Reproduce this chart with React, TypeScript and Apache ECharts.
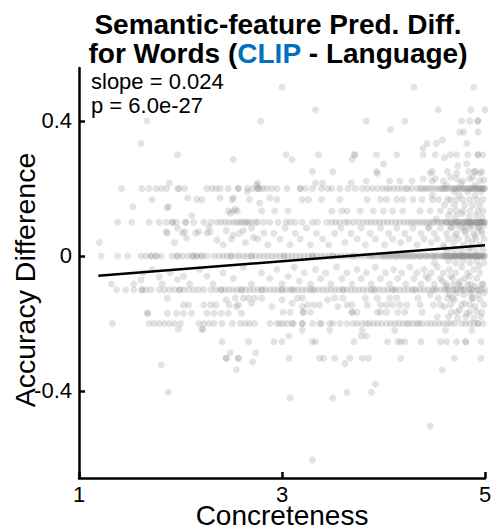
import React, { useEffect, useRef } from "react";
import * as echarts from "echarts";

const FONT = "'Liberation Sans', Arial, Helvetica, sans-serif";

const xTicks = [1, 3, 5];
const yTicks = [-0.4, 0, 0.4];
const xRange = [1, 5];
const yRange = [-0.658, 0.557];

const titleLine1 = "Semantic-feature Pred. Diff.";
const titlePre = "for Words (";
const titleModel = "CLIP";
const titlePost = " - Language)";
const slopeText = "slope = 0.024";
const pText = "p = 6.0e-27";
const xName = "Concreteness";
const yName = "Accuracy Difference";

// regression fit end points
const fitLine = [
  [1.19, -0.059],
  [5.0, 0.032],
];

// concreteness values of words sitting on the main accuracy-difference rows
const xAtP20 = [1.42, 1.62, 1.69, 1.76, 1.81, 1.86, 1.97, 1.99, 2.04, 2.26, 2.31, 2.35, 2.39, 2.47, 2.57, 2.57, 2.66, 2.71, 2.76, 2.76, 2.78, 2.81, 2.85, 2.9, 2.95, 3.05, 3.18, 3.18, 3.23, 3.3, 3.39, 3.45, 3.49, 3.57, 3.65, 3.72, 3.79, 3.84, 3.89, 3.94, 3.99, 4.03, 4.06, 4.1, 4.14, 4.18, 4.22, 4.24, 4.28, 4.33, 4.36, 4.38, 4.41, 4.43, 4.46, 4.49, 4.52, 4.55, 4.57, 4.59, 4.62, 4.64, 4.67, 4.69, 4.72, 4.74, 4.77, 4.79, 4.8, 4.82, 4.85, 4.86, 4.88, 4.9, 4.92, 4.93, 4.95, 4.97, 4.98, 5.0, 4.6, 4.7, 4.75, 4.84, 4.89, 4.94, 4.99];
const xAtP10 = [1.38, 1.52, 1.69, 1.79, 1.86, 1.92, 1.92, 1.96, 2.05, 2.05, 2.13, 2.23, 2.3, 2.36, 2.4, 2.44, 2.48, 2.52, 2.55, 2.58, 2.6, 2.63, 2.65, 2.67, 2.7, 2.74, 2.76, 2.82, 2.88, 2.96, 3.04, 3.08, 3.13, 3.2, 3.3, 3.35, 3.44, 3.49, 3.53, 3.57, 3.62, 3.65, 3.7, 3.75, 3.8, 3.84, 3.88, 3.92, 3.96, 4.0, 4.04, 4.08, 4.12, 4.16, 4.2, 4.24, 4.27, 4.3, 4.33, 4.36, 4.39, 4.42, 4.45, 4.48, 4.5, 4.53, 4.56, 4.58, 4.61, 4.63, 4.66, 4.68, 4.7, 4.72, 4.74, 4.76, 4.78, 4.8, 4.82, 4.84, 4.86, 4.88, 4.9, 4.92, 4.94, 4.96, 4.98, 5.0, 4.62, 4.67, 4.73, 4.79, 4.83, 4.87, 4.91, 4.95, 4.99, 4.85, 4.93, 4.97];
const xAtZero = [1.22, 1.38, 1.48, 1.61, 1.66, 1.71, 1.76, 1.81, 1.92, 1.97, 2.02, 2.07, 2.12, 2.16, 2.21, 2.26, 2.33, 2.38, 2.42, 2.46, 2.5, 2.55, 2.58, 2.62, 2.66, 2.7, 2.74, 2.78, 2.82, 2.86, 2.9, 2.94, 2.98, 3.02, 3.06, 3.1, 3.14, 3.18, 3.22, 3.26, 3.3, 3.34, 3.38, 3.42, 3.46, 3.5, 3.54, 3.58, 3.62, 3.66, 3.7, 3.74, 3.78, 3.82, 3.86, 3.9, 3.93, 3.96, 3.99, 4.02, 4.05, 4.08, 4.11, 4.14, 4.17, 4.2, 4.23, 4.26, 4.29, 4.32, 4.35, 4.38, 4.41, 4.44, 4.47, 4.5, 4.53, 4.56, 4.59, 4.62, 4.65, 4.68, 4.71, 4.74, 4.77, 4.8, 4.83, 4.86, 4.89, 4.92, 4.95, 4.98, 1.76, 2.16, 2.21, 1.71, 1.97, 2.12, 2.5, 2.7, 3.02, 3.3, 3.5, 3.7, 3.88, 4.0, 4.06, 4.12, 4.18, 4.24, 4.3, 4.36, 4.42, 4.48, 4.52, 4.58, 4.61, 4.64, 4.67, 4.7, 4.73, 4.76, 4.79, 4.82, 4.85, 4.88, 4.91, 4.94, 4.97, 5.0, 4.6, 4.66, 4.72, 4.78, 4.84, 4.9, 4.96, 4.99, 4.81, 4.87, 4.93, 4.69, 4.75];
const xAtM10 = [1.37, 1.46, 1.54, 1.62, 1.62, 1.66, 1.71, 1.79, 1.84, 1.89, 1.94, 1.99, 2.03, 2.08, 2.13, 2.18, 2.23, 2.3, 2.35, 2.4, 2.44, 2.48, 2.52, 2.56, 2.6, 2.64, 2.68, 2.72, 2.76, 2.8, 2.84, 2.88, 2.92, 2.96, 3.0, 3.04, 3.08, 3.12, 3.16, 3.2, 3.24, 3.28, 3.32, 3.36, 3.4, 3.44, 3.48, 3.52, 3.56, 3.6, 3.64, 3.68, 3.72, 3.76, 3.8, 3.84, 3.88, 3.92, 3.96, 4.0, 4.04, 4.08, 4.12, 4.16, 4.2, 4.24, 4.28, 4.32, 4.36, 4.4, 4.44, 4.48, 4.52, 4.56, 4.6, 4.64, 4.68, 4.72, 4.76, 4.8, 4.84, 4.88, 4.92, 4.96, 5.0, 1.99, 2.4, 2.6, 2.8, 3.0, 3.1, 3.3, 3.6, 3.9, 4.1, 4.3, 4.5, 4.62, 4.7, 4.78, 4.86, 4.94];
const xAtM20 = [1.33, 1.69, 1.74, 1.79, 1.84, 1.89, 1.94, 2.0, 2.18, 2.23, 2.28, 2.33, 2.41, 2.51, 2.59, 2.64, 2.68, 2.73, 2.88, 2.95, 2.98, 3.01, 3.05, 3.1, 3.11, 3.2, 3.2, 3.3, 3.37, 3.39, 3.47, 3.5, 3.57, 3.64, 3.7, 3.74, 3.79, 3.83, 3.86, 3.9, 3.94, 3.98, 4.03, 4.07, 4.11, 4.15, 4.19, 4.23, 4.25, 4.29, 4.33, 4.35, 4.38, 4.43, 4.47, 4.51, 4.55, 4.59, 4.63, 4.66, 4.7, 4.77, 4.81, 4.85, 4.89, 4.93, 4.93, 4.98];

// words off the main rows: [concreteness, accuracy difference]
const upperScatter = [
  [3.0, 0.5], [4.3, 0.5], [4.89, 0.5],
  [3.33, 0.433], [4.54, 0.433], [4.86, 0.433], [5.0, 0.433],
  [1.67, 0.4], [2.79, 0.4], [3.83, 0.4], [4.21, 0.4], [4.77, 0.4], [4.85, 0.4], [4.93, 0.4], [4.93, 0.4],
  [4.07, 0.375], [4.75, 0.367], [4.79, 0.367], [4.93, 0.367],
  [1.61, 0.333], [4.43, 0.333], [4.52, 0.333], [4.58, 0.344], [4.82, 0.333], [4.39, 0.32],
  [1.97, 0.3], [3.04, 0.3], [3.36, 0.3], [3.71, 0.3], [3.72, 0.3], [3.93, 0.3], [4.13, 0.3], [4.39, 0.3], [4.51, 0.3], [4.66, 0.3], [4.72, 0.3], [4.83, 0.3], [4.93, 0.3], [4.93, 0.3], [4.98, 0.3],
  [2.52, 0.286], [3.1, 0.286], [3.69, 0.286], [4.6, 0.292],
  [4.0, 0.273], [4.73, 0.267], [4.82, 0.273],
  [3.3, 0.25], [3.5, 0.25], [3.93, 0.25], [4.48, 0.25], [4.63, 0.25], [4.84, 0.25], [4.9, 0.25], [4.9, 0.25], [4.97, 0.25],
  [3.94, 0.245], [4.46, 0.245], [4.72, 0.245], [4.95, 0.245],
];
const bandP22 = [
  [1.89, 0.216], [2.75, 0.21], [2.76, 0.216], [3.33, 0.216], [3.4, 0.216], [3.68, 0.216], [3.83, 0.222],
  [4.06, 0.222], [4.16, 0.222], [4.28, 0.222], [4.39, 0.229], [4.48, 0.222], [4.51, 0.229], [4.59, 0.222],
  [4.72, 0.229], [4.78, 0.222], [4.85, 0.229], [4.95, 0.222], [4.88, 0.233], [4.66, 0.233],
];
const bandP15 = [
  [1.72, 0.167], [1.87, 0.143], [2.16, 0.167], [2.21, 0.167], [1.53, 0.146], [1.88, 0.146], [2.07, 0.172],
  [2.39, 0.172], [2.52, 0.172], [2.66, 0.19], [2.49, 0.127], [2.54, 0.139], [2.78, 0.157], [2.88, 0.172], [2.11, 0.12],
  [2.51, 0.167], [2.68, 0.167], [2.95, 0.167], [3.2, 0.167], [3.26, 0.167], [3.39, 0.167], [3.57, 0.167],
  [2.47, 0.133], [2.52, 0.133], [2.56, 0.133], [2.8, 0.133], [2.93, 0.133], [3.06, 0.133], [3.49, 0.133], [3.59, 0.133], [3.64, 0.133],
  [3.84, 0.167], [3.97, 0.167], [4.03, 0.167], [4.13, 0.167], [4.19, 0.167], [4.29, 0.167], [4.38, 0.167], [4.48, 0.167],
  [4.54, 0.167], [4.63, 0.167], [4.66, 0.167], [4.72, 0.167], [4.78, 0.167], [4.85, 0.167], [4.92, 0.167], [4.98, 0.167],
  [3.77, 0.133], [3.9, 0.133], [4.0, 0.133], [4.09, 0.133], [4.19, 0.133], [4.36, 0.133], [4.46, 0.133], [4.56, 0.133],
  [4.66, 0.133], [4.72, 0.133], [4.78, 0.133], [4.85, 0.133], [4.93, 0.133], [4.98, 0.133],
  [4.6, 0.15], [4.7, 0.15], [4.8, 0.15], [4.88, 0.15], [4.95, 0.15], [4.75, 0.18], [4.9, 0.18],
];
const bandP05 = [
  [1.2, 0.04], [1.97, 0.083], [1.86, 0.072], [2.04, 0.072], [2.18, 0.072], [2.06, 0.053], [1.94, 0.04], [2.28, 0.087],
  [2.29, 0.072], [1.87, 0.068], [2.02, 0.068], [2.15, 0.068], [2.26, 0.068], [2.36, 0.047], [2.45, 0.075], [2.52, 0.062],
  [2.62, 0.075], [2.72, 0.055], [2.82, 0.068],
  [2.42, 0.033], [2.5, 0.05], [2.58, 0.067], [2.64, 0.04], [2.7, 0.083], [2.76, 0.05], [2.86, 0.033], [2.92, 0.067],
  [2.98, 0.05], [3.03, 0.083], [3.08, 0.033], [3.13, 0.067], [3.18, 0.05], [3.24, 0.083], [3.28, 0.033], [3.34, 0.067],
  [3.4, 0.05], [3.46, 0.033], [3.52, 0.067], [3.58, 0.083], [3.62, 0.04], [3.68, 0.067],
  [3.74, 0.05], [3.78, 0.083], [3.82, 0.033], [3.87, 0.067], [3.92, 0.05], [3.97, 0.083], [4.01, 0.033], [4.05, 0.067],
  [4.09, 0.05], [4.13, 0.083], [4.17, 0.04], [4.21, 0.067], [4.25, 0.05], [4.29, 0.083], [4.33, 0.033], [4.37, 0.067],
  [4.4, 0.05], [4.44, 0.083], [4.47, 0.04], [4.5, 0.067], [4.53, 0.05], [4.56, 0.083], [4.59, 0.033], [4.62, 0.067],
  [4.64, 0.05], [4.67, 0.083], [4.69, 0.04], [4.72, 0.067], [4.74, 0.05], [4.77, 0.083], [4.79, 0.033], [4.81, 0.067],
  [4.83, 0.05], [4.85, 0.083], [4.87, 0.04], [4.89, 0.067], [4.91, 0.05], [4.93, 0.083], [4.95, 0.033], [4.97, 0.067],
  [4.99, 0.05], [4.7, 0.06], [4.8, 0.075], [4.9, 0.06], [4.96, 0.075], [4.6, 0.025], [4.86, 0.025],
];
const bandM05 = [
  [1.32, -0.083], [1.54, -0.083], [1.61, -0.071], [1.79, -0.062], [1.97, -0.07], [2.03, -0.06], [2.26, -0.06],
  [1.63, -0.05], [1.72, -0.04], [1.82, -0.083], [1.9, -0.05], [2.09, -0.083], [2.19, -0.04], [2.32, -0.083],
  [2.42, -0.05], [2.52, -0.067], [2.62, -0.033], [2.7, -0.083], [2.8, -0.05], [2.88, -0.067],
  [2.95, -0.04], [3.0, -0.083], [3.06, -0.06], [3.12, -0.033], [3.17, -0.075], [3.22, -0.05], [3.28, -0.083],
  [3.33, -0.04], [3.38, -0.067], [3.43, -0.05], [3.48, -0.083], [3.54, -0.033], [3.59, -0.067], [3.64, -0.05], [3.69, -0.083],
  [3.74, -0.04], [3.78, -0.067], [3.83, -0.05], [3.88, -0.083], [3.92, -0.033], [3.97, -0.067], [4.02, -0.05], [4.06, -0.083],
  [4.1, -0.04], [4.14, -0.067], [4.18, -0.05], [4.22, -0.083], [4.26, -0.033], [4.3, -0.067], [4.33, -0.05], [4.37, -0.083],
  [4.4, -0.04], [4.44, -0.067], [4.47, -0.05], [4.5, -0.083], [4.53, -0.033], [4.56, -0.067], [4.59, -0.05], [4.62, -0.083],
  [4.65, -0.04], [4.68, -0.067], [4.71, -0.05], [4.74, -0.083], [4.77, -0.033], [4.8, -0.067], [4.83, -0.05], [4.86, -0.083],
  [4.89, -0.04], [4.92, -0.067], [4.95, -0.05], [4.98, -0.083], [4.66, -0.06], [4.75, -0.075], [4.85, -0.06], [4.94, -0.03],
  [4.58, -0.075], [4.42, -0.06],
];
const bandM15 = [
  [1.87, -0.125], [2.03, -0.145], [2.08, -0.145], [2.23, -0.145], [2.3, -0.145], [2.35, -0.145], [1.67, -0.17], [1.87, -0.17],
  [1.96, -0.17], [2.03, -0.17], [2.11, -0.17], [2.26, -0.17], [2.33, -0.17], [1.68, -0.17], [2.4, -0.17], [2.47, -0.17],
  [2.54, -0.125], [2.62, -0.125], [2.67, -0.125], [2.73, -0.125], [2.57, -0.145], [2.48, -0.145], [2.6, -0.17],
  [3.01, -0.167], [3.08, -0.167], [3.21, -0.167], [3.21, -0.167], [3.28, -0.167], [3.69, -0.167], [3.69, -0.167], [3.74, -0.167],
  [3.94, -0.167], [3.97, -0.167], [4.03, -0.167], [4.14, -0.167], [4.21, -0.167], [4.38, -0.167], [4.67, -0.167], [4.72, -0.167],
  [4.85, -0.167], [4.97, -0.167],
  [3.25, -0.145], [3.31, -0.145], [3.37, -0.145], [3.64, -0.145], [3.69, -0.145], [3.84, -0.145], [3.97, -0.145], [4.03, -0.145],
  [4.09, -0.145], [4.16, -0.145], [4.23, -0.145], [4.36, -0.145], [4.49, -0.145], [4.56, -0.145], [4.66, -0.145], [4.77, -0.145], [4.85, -0.145],
  [3.15, -0.125], [3.2, -0.125], [3.52, -0.125], [3.6, -0.125], [3.82, -0.125], [3.94, -0.125], [4.06, -0.125], [4.13, -0.125],
  [4.34, -0.125], [4.54, -0.125], [4.63, -0.125], [4.68, -0.125], [4.87, -0.125],
  [2.45, -0.13], [2.55, -0.15], [2.7, -0.14], [2.8, -0.125], [2.9, -0.15], [3.0, -0.13], [3.1, -0.14], [3.2, -0.15], [3.45, -0.13], [3.55, -0.15],
  [4.6, -0.15], [4.7, -0.13], [4.75, -0.16], [4.8, -0.14], [4.9, -0.15], [4.95, -0.13], [4.88, -0.125], [4.82, -0.17], [4.92, -0.165], [4.99, -0.145],
];
// extra words in the crowded high-concreteness corner
const denseCorner = [
  [4.62, 0.21], [4.7, 0.19], [4.76, 0.215], [4.83, 0.19], [4.9, 0.21], [4.96, 0.19], [4.99, 0.225],
  [4.64, 0.12], [4.71, 0.115], [4.77, 0.125], [4.84, 0.115], [4.91, 0.12], [4.97, 0.115],
  [4.66, 0.085], [4.73, 0.09], [4.8, 0.085], [4.87, 0.09], [4.94, 0.085], [4.99, 0.09],
  [4.63, 0.015], [4.7, 0.02], [4.77, 0.015], [4.84, 0.02], [4.91, 0.015], [4.98, 0.02],
  [4.64, -0.015], [4.71, -0.02], [4.78, -0.015], [4.85, -0.02], [4.92, -0.015], [4.99, -0.02],
  [4.62, -0.09], [4.69, -0.085], [4.76, -0.09], [4.83, -0.085], [4.9, -0.09], [4.97, -0.085],
  [4.65, -0.115], [4.72, -0.11], [4.79, -0.115], [4.86, -0.11], [4.93, -0.115], [4.99, -0.11],
  [4.64, -0.18], [4.73, -0.185], [4.81, -0.18], [4.89, -0.185], [4.96, -0.18],
  [4.48, 0.18], [4.52, 0.11], [4.45, 0.085], [4.5, -0.02], [4.46, -0.115], [4.53, -0.18],
];
const lowerScatter = [
  [2.21, -0.217], [1.98, -0.217], [2.22, -0.217], [3.2, -0.22], [3.47, -0.22], [3.79, -0.22], [4.11, -0.22], [4.61, -0.22], [4.87, -0.22],
  [3.07, -0.237], [3.83, -0.237], [3.78, -0.237],
  [2.41, -0.254], [2.67, -0.254], [2.92, -0.254], [3.0, -0.254], [3.3, -0.254], [3.33, -0.254], [3.71, -0.254], [4.04, -0.254],
  [4.14, -0.254], [4.17, -0.254], [4.21, -0.254], [4.37, -0.254], [4.56, -0.254], [4.62, -0.254], [4.72, -0.254], [4.81, -0.254], [4.81, -0.254], [4.96, -0.254],
  [2.45, -0.303], [2.45, -0.303], [2.57, -0.303], [2.57, -0.303], [3.07, -0.303], [3.37, -0.303], [3.41, -0.303], [3.52, -0.303],
  [3.67, -0.303], [3.79, -0.303], [3.85, -0.303], [4.17, -0.303], [4.7, -0.303], [4.96, -0.303],
  [2.49, -0.287], [2.74, -0.287], [2.71, -0.314], [2.55, -0.337], [3.62, -0.319], [4.58, -0.337], [1.81, -0.323],
  [1.88, -0.404], [3.08, -0.421], [3.5, -0.421], [3.64, -0.404], [3.88, -0.404], [3.92, -0.38], [4.46, -0.504], [3.3, -0.605],
];

const rowPoints = [
  ...xAtP20.map((x) => [x, 0.2]),
  ...xAtP10.map((x) => [x, 0.1]),
  ...xAtZero.map((x) => [x, 0]),
  ...xAtM10.map((x) => [x, -0.1]),
  ...xAtM20.map((x) => [x, -0.2]),
];
const allPoints = [...rowPoints, ...upperScatter, ...bandP22, ...bandP15, ...bandP05, ...bandM05, ...bandM15, ...denseCorner, ...lowerScatter];

export default function App() {
  const ref = useRef<HTMLDivElement>(null);
  useEffect(() => {
    if (!ref.current) return;
    const chart = echarts.init(ref.current, undefined, { renderer: "svg" });
    chart.setOption({
      animation: false,
      backgroundColor: "#ffffff",
      textStyle: { fontFamily: FONT },
      grid: { left: 79, right: 6, top: 68, bottom: 53, containLabel: false, outerBoundsMode: "none" },
      xAxis: {
        type: "value",
        min: xRange[0],
        max: xRange[1],
        axisLine: { show: true, onZero: false, lineStyle: { color: "#000", width: 2.5 } },
        axisTick: { show: true, inside: true, length: 6, lineStyle: { color: "#000", width: 2.5 }, customValues: xTicks },
        axisLabel: { show: true, fontSize: 22, lineHeight: 18, color: "#000", margin: 7, fontFamily: FONT, customValues: xTicks },
        splitLine: { show: false },
      },
      yAxis: {
        type: "value",
        min: yRange[0],
        max: yRange[1],
        axisLine: { show: true, onZero: false, lineStyle: { color: "#000", width: 2.5 } },
        axisTick: { show: true, inside: true, length: 6, lineStyle: { color: "#000", width: 2.5 }, customValues: yTicks },
        axisLabel: { show: true, fontSize: 22, color: "#000", margin: 7, fontFamily: FONT, customValues: yTicks },
        splitLine: { show: false },
      },
      graphic: [
        {
          type: "text",
          x: 278,
          y: 10,
          z: 100,
          style: {
            text: `{a|${titleLine1}}\n{a|${titlePre}}{b|${titleModel}}{a|${titlePost}}`,
            align: "center",
            verticalAlign: "top",
            rich: {
              a: { fontSize: 28, fontWeight: "bold", fill: "#000", color: "#000", lineHeight: 29, fontFamily: FONT },
              b: { fontSize: 28, fontWeight: "bold", fill: "#0072BD", color: "#0072BD", lineHeight: 29, fontFamily: FONT },
            },
          },
        },
        {
          type: "text",
          x: 282,
          y: 515,
          z: 100,
          style: { text: xName, fontSize: 28, lineHeight: 24, fill: "#000", fontFamily: FONT, align: "center", verticalAlign: "middle" },
        },
        {
          type: "text",
          x: 25,
          y: 280,
          rotation: Math.PI / 2,
          z: 100,
          style: { text: yName, fontSize: 28.5, fill: "#000", fontFamily: FONT, align: "center", verticalAlign: "middle" },
        },
        {
          type: "text",
          x: 91,
          y: 70,
          z: 100,
          style: { text: slopeText, fontSize: 22, fill: "#000", fontFamily: FONT, align: "left", verticalAlign: "top" },
        },
        {
          type: "text",
          x: 91,
          y: 94,
          z: 100,
          style: { text: pText, fontSize: 22, fill: "#000", fontFamily: FONT, align: "left", verticalAlign: "top" },
        },
      ],
      series: [
        {
          type: "scatter",
          data: allPoints,
          symbol: "circle",
          symbolSize: 7,
          clip: false,
          itemStyle: { color: "#808080", opacity: 0.22 },
          silent: true,
          z: 2,
        },
        {
          type: "line",
          data: fitLine,
          symbol: "none",
          lineStyle: { color: "#000", width: 2.5 },
          silent: true,
          z: 3,
        },
      ],
    });
    return () => chart.dispose();
  }, []);
  return <div ref={ref} style={{ position: "absolute", left: 0, top: 0, width: 491, height: 531 }} />;
}
